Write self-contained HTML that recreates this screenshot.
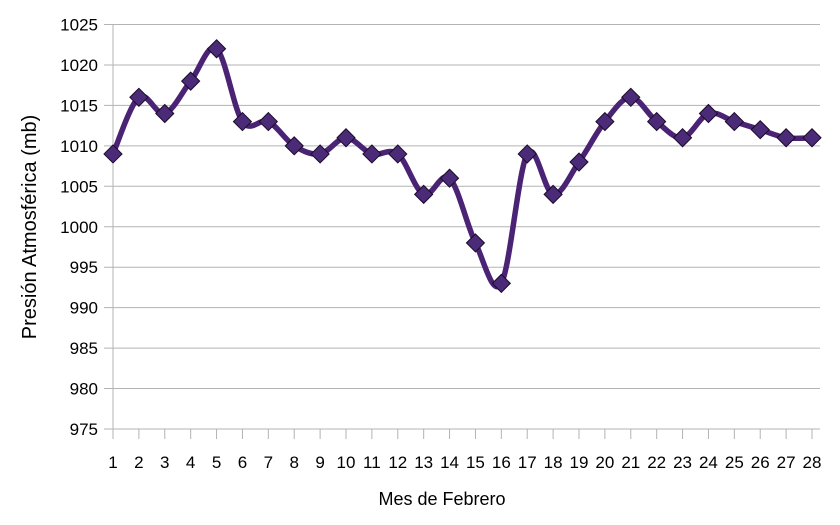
<!DOCTYPE html>
<html><head><meta charset="utf-8"><style>
body{margin:0;background:#fff;}
svg{display:block;font-family:"Liberation Sans",sans-serif;}
</style></head><body>
<svg id="c" width="840" height="525"></svg>
<script>
const days=[1,2,3,4,5,6,7,8,9,10,11,12,13,14,15,16,17,18,19,20,21,22,23,24,25,26,27,28];
const pressure=[1009,1016,1014,1018,1022,1013,1013,1010,1009,1011,1009,1009,1004,1006,998,993,1009,1004,1008,1013,1016,1013,1011,1014,1013,1012,1011,1011];
const yTicks=[975,980,985,990,995,1000,1005,1010,1015,1020,1025];
const NS="http://www.w3.org/2000/svg";
const svg=document.getElementById('c');
const x0=113,x1=812,yTop=24.5,yBot=429,right=820;
const xs=d=>x0+(d-1)*(x1-x0)/27;
const ys=v=>yBot-(v-975)*(yBot-yTop)/50;
function mk(t,a,txt){const e=document.createElementNS(NS,t);for(const k in a)e.setAttribute(k,a[k]);if(txt!==undefined)e.textContent=txt;svg.appendChild(e);return e;}
yTicks.forEach(v=>{
 const l=mk('line',{x1:104,x2:right,y1:ys(v),y2:ys(v),stroke:'#b3b3b3','stroke-width':1});
 
 
 const t=mk('text',{x:98,y:ys(v)+6,'text-anchor':'end','font-size':17,fill:'#000'},v);
 
 
});
const ax=mk('line',{x1:x0,x2:x0,y1:yTop,y2:yBot+10,stroke:'#b3b3b3','stroke-width':1});


days.forEach(d=>{
 const tk=mk('line',{x1:xs(d),x2:xs(d),y1:yBot,y2:yBot+10,stroke:'#b3b3b3','stroke-width':1});
 
 
 const t=mk('text',{x:xs(d),y:468,'text-anchor':'middle','font-size':17,fill:'#000'},d);
 
 
});
const P=days.map((d,i)=>[xs(d),ys(pressure[i])]);
let dstr=`M${P[0][0]},${P[0][1]}`;
for(let i=0;i<P.length-1;i++){
 const p0=P[Math.max(0,i-1)],p1=P[i],p2=P[i+1],p3=P[Math.min(P.length-1,i+2)];
 const c1=[p1[0]+(p2[0]-p0[0])/6,p1[1]+(p2[1]-p0[1])/6];
 const c2=[p2[0]-(p3[0]-p1[0])/6,p2[1]-(p3[1]-p1[1])/6];
 dstr+=` C${c1[0]},${c1[1]} ${c2[0]},${c2[1]} ${p2[0]},${p2[1]}`;
}
const line=mk('path',{d:dstr,fill:'none',stroke:'#4b2374','stroke-width':5.5,'stroke-linejoin':'round'});


P.forEach(p=>{
 const s=9;
 const m=mk('polygon',{points:`${p[0]},${p[1]-s} ${p[0]+s},${p[1]} ${p[0]},${p[1]+s} ${p[0]-s},${p[1]}`,fill:'#4b2a78',stroke:'#1a0a2a','stroke-width':1});
 
 
});
const yt=mk('text',{x:36,y:227,'text-anchor':'middle','font-size':20,fill:'#000',transform:'rotate(-90 36 227)'},'Presión Atmosférica (mb)');


const xt=mk('text',{x:442,y:505,'text-anchor':'middle','font-size':18,fill:'#000'},'Mes de Febrero');


</script>
</body></html>
